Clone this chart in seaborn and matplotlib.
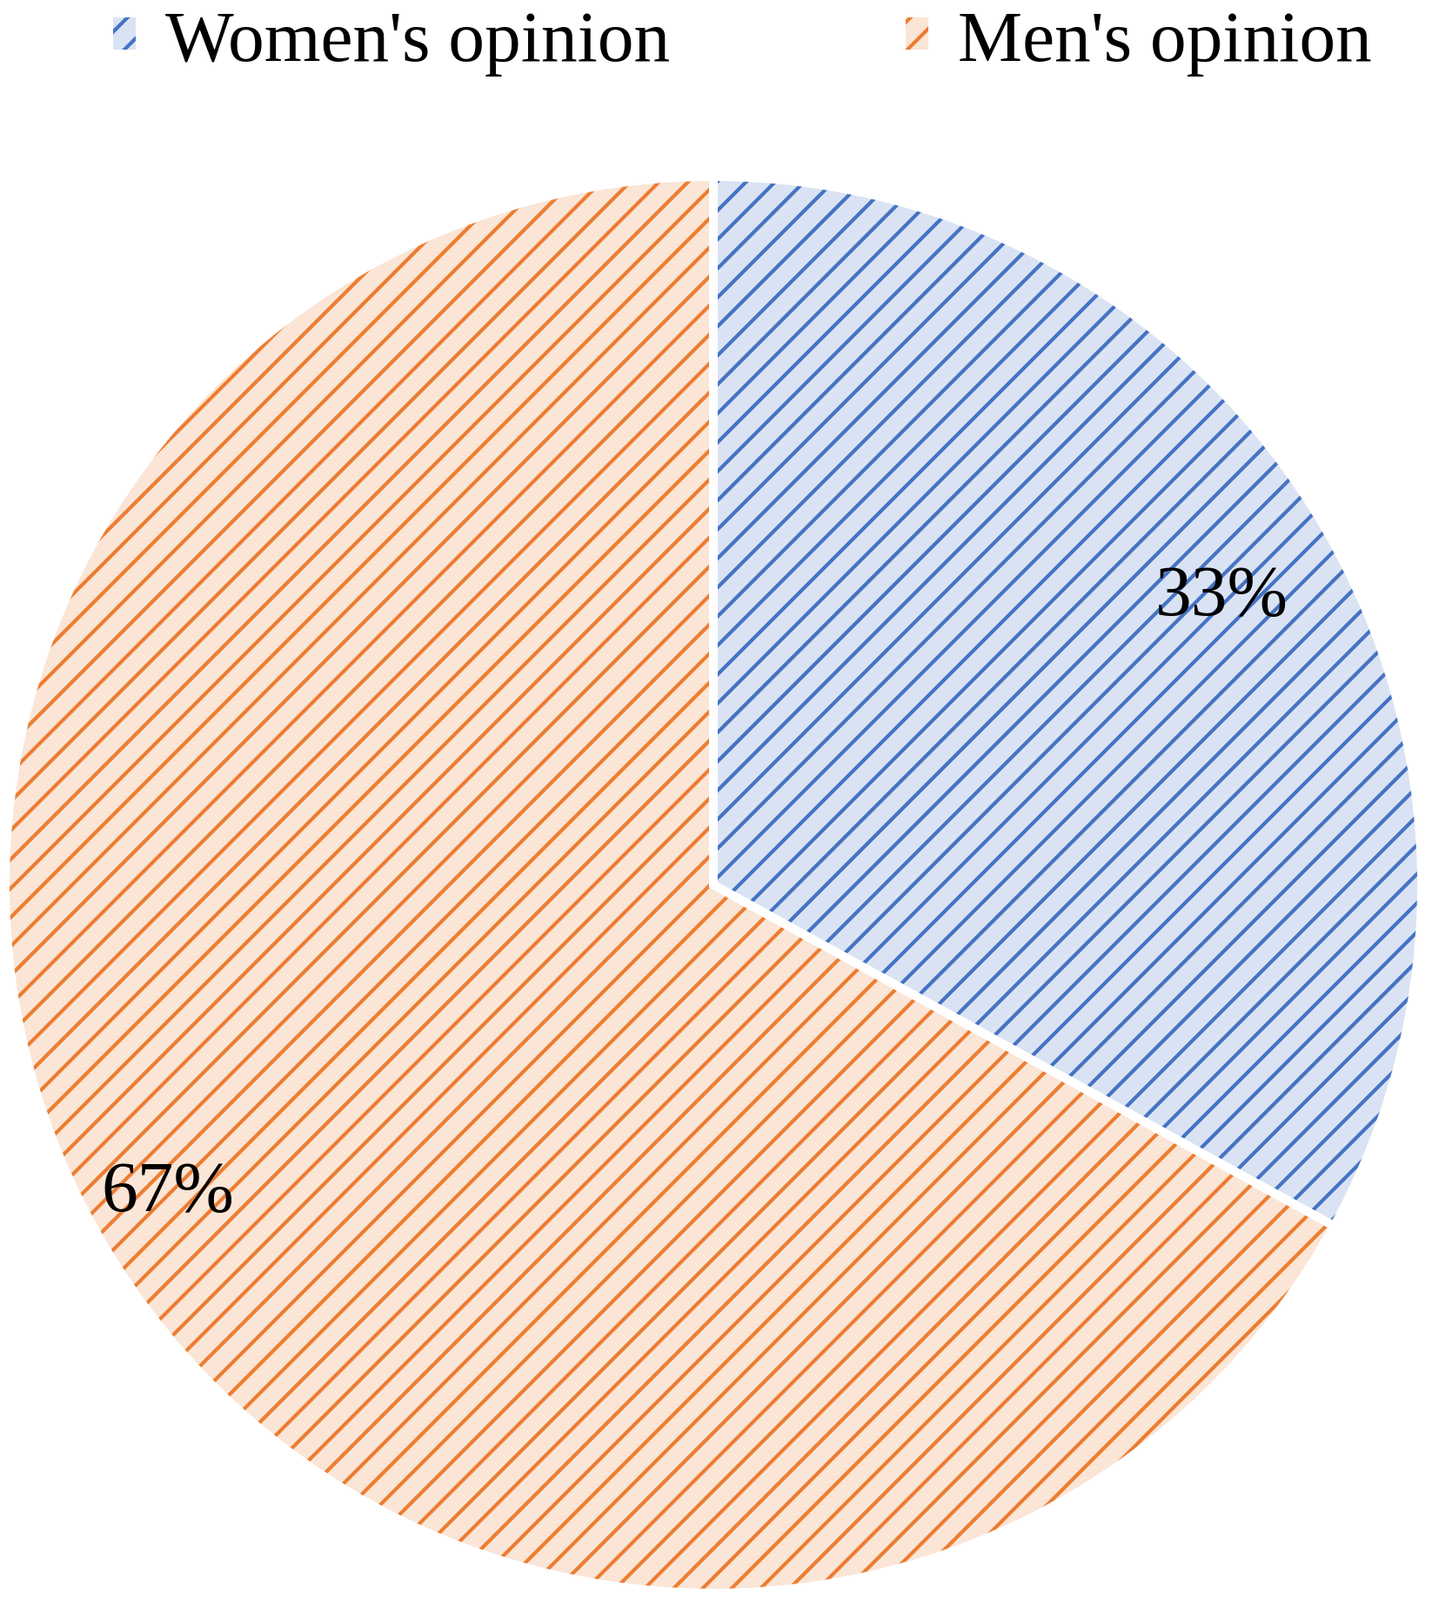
import numpy as np
import seaborn as sns
import matplotlib
matplotlib.use("Agg")
import matplotlib.pyplot as plt
from matplotlib.patches import Patch

# data
labels = ["Women's opinion", "Men's opinion"]
shares = [33, 67]
fill_colors = ["#DAE3F3", "#FBE5D6"]
hatch_colors = ["#4472C4", "#ED7D31"]
label_radius = [0.825, 0.885]

sns.set_theme(style="white")
plt.rcParams["font.family"] = ["Liberation Serif", "DejaVu Serif"]
plt.rcParams["text.color"] = "black"
plt.rcParams["hatch.linewidth"] = 1.5

W, H, DPI = 1646, 1840, 200
fig = plt.figure(figsize=(W / DPI, H / DPI), dpi=DPI)

# pie centre and radius in pixels
cx, cy, r = 820, 1018, 814
ax = fig.add_axes([(cx - r) / W, (H - cy - r) / H, 2 * r / W, 2 * r / H])

# plain fill
ax.pie(shares, colors=fill_colors, startangle=90, counterclock=False,
       wedgeprops=dict(linewidth=0))
# hatch layer
hatch_wedges, _ = ax.pie(shares, startangle=90, counterclock=False,
                         wedgeprops=dict(linewidth=0, facecolor="none"))
for w, c in zip(hatch_wedges, hatch_colors):
    w.set_edgecolor(c)
    w.set_hatch("//")
    w.set_linewidth(0)
# white separators + percentage labels
edge_wedges, _, pct_texts = ax.pie(
    shares, startangle=90, counterclock=False, autopct="%1.0f%%",
    wedgeprops=dict(facecolor="none", edgecolor="white", linewidth=3.6),
    textprops=dict(fontsize=30, color="black"))

# labels sit a little clockwise of the wedge middle, like the original
for w, t, d in zip(edge_wedges, pct_texts, label_radius):
    theta = np.deg2rad((w.theta1 + w.theta2) / 2 - 1.1)
    t.set_position((d * np.cos(theta), d * np.sin(theta)))

ax.set_xlim(-1, 1)
ax.set_ylim(-1, 1)
ax.set_aspect("equal")
ax.axis("off")

handles = [Patch(facecolor=f, edgecolor=h, hatch="//", linewidth=0)
           for f, h in zip(fill_colors, hatch_colors)]
fig.legend(handles, labels, loc="upper center", ncol=2,
           bbox_to_anchor=(853 / W, 1 - 12 / H), frameon=False,
           fontsize=30, handlelength=0.32, handleheight=0.32,
           handletextpad=0.4, columnspacing=3.25, borderpad=0,
           borderaxespad=0, labelcolor="black")

fig.savefig("out.png", dpi=DPI, facecolor="white")
